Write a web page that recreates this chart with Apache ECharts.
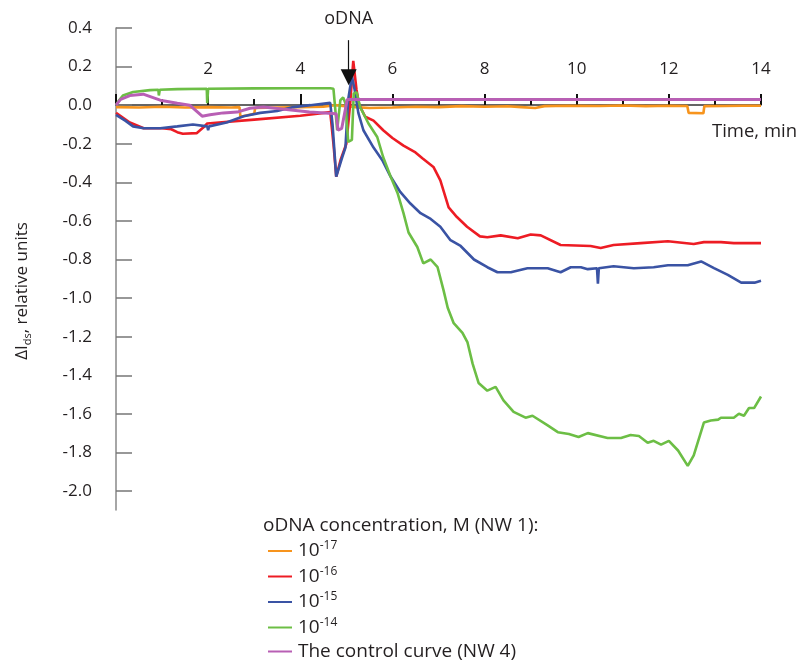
<!DOCTYPE html>
<html>
<head>
<meta charset="utf-8">
<script src="https://cdn.jsdelivr.net/npm/echarts@6/dist/echarts.min.js"></script>
<style>
html, body { margin: 0; padding: 0; background: #fff; }
#main { width: 800px; height: 668px; }
</style>
</head>
<body>
<div id="main"></div>
<script>
// time (min) vs delta I_ds
const orange17 = [[0,-0.01],[0.5,-0.012],[1,-0.008],[1.5,-0.012],[2,-0.01],[2.5,-0.012],[2.68,-0.01],[2.7,-0.06],[3.0,-0.045],[3.02,-0.015],[3.5,-0.012],[4,-0.01],[4.5,-0.008],[4.75,0.0],[5.2,-0.01],[5.5,-0.015],[6,-0.012],[6.5,-0.008],[7,-0.01],[7.5,-0.005],[8,-0.008],[8.5,-0.006],[8.8,-0.01],[9.1,-0.015],[9.3,-0.005],[9.8,-0.003],[10.5,-0.004],[11,-0.002],[11.5,-0.005],[12,-0.003],[12.4,-0.004],[12.43,-0.04],[12.75,-0.042],[12.77,-0.005],[13.2,-0.004],[13.6,-0.003],[14,-0.003]];
const red16 = [[0,-0.04],[0.3,-0.09],[0.6,-0.12],[1.0,-0.12],[1.2,-0.125],[1.33,-0.14],[1.45,-0.148],[1.75,-0.145],[1.9,-0.115],[1.98,-0.095],[3,-0.075],[4,-0.055],[4.65,-0.036],[4.72,-0.2],[4.78,-0.37],[4.88,-0.28],[5.0,-0.2],[5.08,0.0],[5.15,0.23],[5.22,0.08],[5.28,0.0],[5.41,-0.06],[5.59,-0.08],[5.8,-0.13],[6.0,-0.17],[6.24,-0.21],[6.5,-0.245],[6.65,-0.275],[6.89,-0.32],[7.04,-0.39],[7.22,-0.53],[7.4,-0.58],[7.62,-0.63],[7.9,-0.68],[8.06,-0.685],[8.35,-0.675],[8.72,-0.69],[9.0,-0.67],[9.22,-0.675],[9.65,-0.725],[10.3,-0.73],[10.52,-0.74],[10.8,-0.725],[11.39,-0.715],[11.98,-0.705],[12.54,-0.72],[12.76,-0.71],[13.13,-0.71],[13.41,-0.715],[14,-0.715]];
const blue15 = [[0,-0.05],[0.2,-0.08],[0.37,-0.11],[0.6,-0.12],[0.96,-0.12],[1.33,-0.11],[1.67,-0.1],[1.98,-0.11],[2.0,-0.13],[2.02,-0.11],[2.4,-0.09],[2.77,-0.057],[3.13,-0.04],[3.5,-0.03],[3.85,-0.01],[4.22,0],[4.65,0.012],[4.7,-0.1],[4.78,-0.37],[4.91,-0.27],[4.98,-0.22],[5.04,0.03],[5.12,0.15],[5.18,0.08],[5.26,-0.04],[5.37,-0.13],[5.59,-0.22],[5.78,-0.285],[5.96,-0.37],[6.17,-0.45],[6.39,-0.51],[6.61,-0.56],[6.83,-0.59],[7.04,-0.63],[7.26,-0.7],[7.48,-0.73],[7.77,-0.8],[8.06,-0.84],[8.28,-0.866],[8.57,-0.866],[8.93,-0.845],[9.37,-0.845],[9.65,-0.866],[9.87,-0.84],[10.09,-0.84],[10.24,-0.85],[10.44,-0.845],[10.46,-0.925],[10.48,-0.845],[10.8,-0.835],[11.24,-0.845],[11.67,-0.84],[11.98,-0.83],[12.41,-0.83],[12.7,-0.81],[12.98,-0.845],[13.28,-0.88],[13.57,-0.92],[13.86,-0.92],[14,-0.91]];
const green14 = [[0,0],[0.05,0.02],[0.15,0.05],[0.37,0.068],[0.74,0.078],[0.92,0.08],[0.93,0.05],[0.95,0.08],[1.33,0.083],[1.97,0.085],[1.98,0.01],[2.0,0.085],[3,0.087],[4,0.088],[4.65,0.088],[4.72,0.085],[4.8,-0.13],[4.87,0.026],[4.93,0.04],[4.98,0.01],[5.04,-0.19],[5.12,-0.18],[5.16,0.06],[5.22,0.068],[5.3,-0.01],[5.48,-0.095],[5.67,-0.165],[5.8,-0.27],[5.96,-0.37],[6.11,-0.455],[6.24,-0.56],[6.35,-0.66],[6.54,-0.735],[6.67,-0.82],[6.83,-0.8],[6.98,-0.84],[7.11,-0.96],[7.2,-1.05],[7.33,-1.13],[7.52,-1.18],[7.63,-1.23],[7.74,-1.34],[7.87,-1.44],[8.06,-1.48],[8.24,-1.46],[8.41,-1.53],[8.63,-1.59],[8.89,-1.62],[9.04,-1.61],[9.37,-1.66],[9.59,-1.695],[9.83,-1.705],[10.04,-1.72],[10.24,-1.7],[10.67,-1.725],[10.96,-1.725],[11.17,-1.71],[11.35,-1.715],[11.54,-1.75],[11.67,-1.74],[11.83,-1.76],[12.0,-1.74],[12.2,-1.79],[12.41,-1.87],[12.54,-1.815],[12.76,-1.645],[12.91,-1.635],[13.07,-1.63],[13.13,-1.62],[13.41,-1.62],[13.52,-1.6],[13.63,-1.61],[13.74,-1.57],[13.85,-1.57],[14,-1.51]];
const controlNW4 = [[0,0],[0.1,0.03],[0.3,0.05],[0.59,0.057],[0.96,0.026],[1.33,0.01],[1.6,0],[1.87,-0.057],[2.04,-0.05],[2.33,-0.04],[2.63,-0.036],[2.91,-0.016],[3.2,-0.01],[3.6,-0.02],[4.2,-0.035],[4.78,-0.045],[4.82,-0.13],[4.9,-0.12],[5.02,0.03],[5.5,0.03],[14,0.03]];

const seriesNames = ['10^-17', '10^-16', '10^-15', '10^-14', 'The control curve (NW 4)'];
const seriesData = [orange17, red16, blue15, green14, controlNW4];
const colors = ['#f7941d', '#ed1c24', '#3a53a4', '#6cbe45', '#b85fb4'];
const injectTime = 5.05; // oDNA arrow

const FONT = 'Open Sans';
const TXT = '#231f20';

let chart = echarts.init(document.getElementById('main'));

let series = seriesData.map((d, i) => ({
    name: seriesNames[i],
    type: 'line',
    data: d,
    color: colors[i],
    showSymbol: false,
    symbol: 'none',
    lineStyle: { width: i === 4 ? 3 : 2.6, color: colors[i] },
    silent: true
}));

// arrow + "oDNA" text
series[0].markLine = {
    silent: true,
    symbol: ['none', 'triangle'],
    symbolSize: 16,
    lineStyle: { color: '#111', width: 1.2, type: 'solid' },
    itemStyle: { color: '#111' },
    label: { show: true, position: 'start', formatter: 'oDNA', color: TXT, fontSize: 18, fontFamily: FONT, distance: 12 },
    data: [[{ coord: [injectTime, 0.337] }, { coord: [injectTime, 0.145] }]]
};

let opt = {
    animation: false,
    backgroundColor: '#fff',
    textStyle: { fontFamily: FONT, color: TXT },
    title: [
        { text: 'oDNA concentration, M (NW 1):', left: 258, top: 511,
          textStyle: { fontFamily: FONT, fontSize: 19, fontWeight: 'normal', color: TXT } },
        { text: 'Time, min', left: 707, top: 117,
          textStyle: { fontFamily: FONT, fontSize: 18.5, fontWeight: 'normal', color: TXT } }
    ],
    legend: {
        orient: 'vertical',
        left: 263,
        top: 535,
        itemGap: 5,
        itemWidth: 24,
        itemHeight: 2,
        icon: 'rect',
        selectedMode: false,
        data: seriesNames,
        formatter: function(name) {
            if (name.indexOf('^') >= 0) {
                return '{b|10}{s|' + name.split('^')[1] + '}';
            }
            return '{b|' + name + '}';
        },
        textStyle: {
            padding: [0, 0, 0, 1],
            rich: {
                b: { fontFamily: FONT, fontSize: 19, lineHeight: 22, color: TXT },
                s: { fontFamily: FONT, fontSize: 12, lineHeight: 13, verticalAlign: 'top', color: TXT }
            }
        }
    },
    grid: [
        { left: 116, right: 39, top: 28, bottom: 177 },
        { left: 116, right: 39, top: 28, bottom: 158 }
    ],
    xAxis: [
        {
            type: 'value', gridIndex: 0, min: 0, max: 14, interval: 2,
            offset: -386,
            axisLine: { onZero: false, lineStyle: { color: '#333', width: 1.5 } },
            axisTick: { inside: true, length: 11, lineStyle: { color: '#111', width: 2 } },
            minorTick: { show: true, splitNumber: 2, length: 6, lineStyle: { color: '#111', width: 2 } },
            axisLabel: {
                inside: true, margin: 27, fontSize: 17, fontFamily: FONT, color: TXT,
                formatter: v => (v === 0 ? '' : String(v))
            },
            splitLine: { show: false }
        },
        { type: 'value', gridIndex: 1, min: 0, max: 14, show: false }
    ],
    yAxis: [
        {
            type: 'value', gridIndex: 0, min: -2, max: 0.4, interval: 0.2,
            axisLine: { show: false },
            axisTick: { inside: true, length: 16, lineStyle: { color: '#777', width: 1.5 } },
            axisLabel: { margin: 24, fontSize: 17, fontFamily: FONT, color: TXT, formatter: v => v.toFixed(1) },
            splitLine: { show: false }
        },
        {
            type: 'value', gridIndex: 1, min: -2.1, max: 0.4,
            axisLine: { show: true, onZero: false, lineStyle: { color: '#888', width: 1.5 } },
            axisTick: { show: false },
            axisLabel: { show: false },
            splitLine: { show: false }
        }
    ],
    graphic: [{
        type: 'text',
        x: 22,
        y: 291,
        rotation: Math.PI / 2,
        style: {
            text: '{a|ΔI}{d|ds}{a|, relative units}',
            align: 'center',
            verticalAlign: 'middle',
            fill: TXT,
            rich: {
                a: { fontFamily: FONT, fontSize: 17, lineHeight: 22, fill: TXT },
                d: { fontFamily: FONT, fontSize: 11, lineHeight: 14, verticalAlign: 'bottom', fill: TXT }
            }
        }
    }],
    series: series
};

chart.setOption(opt);
</script>
</body>
</html>
